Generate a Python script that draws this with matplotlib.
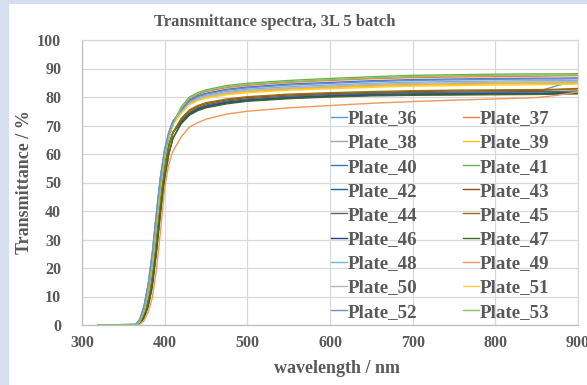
import matplotlib
matplotlib.use("Agg")
import matplotlib.pyplot as plt
from matplotlib.patches import Rectangle

# ---------------- data ----------------
wavelength = [320, 365, 370, 375, 380, 385, 390, 395, 400, 405, 410,
              420, 430, 440, 450, 475, 500, 550, 600, 650, 700, 750, 800, 850, 875, 900]

plate_names = ["Plate_36", "Plate_37", "Plate_38", "Plate_39", "Plate_40", "Plate_41",
               "Plate_42", "Plate_43", "Plate_44", "Plate_45", "Plate_46", "Plate_47",
               "Plate_48", "Plate_49", "Plate_50", "Plate_51", "Plate_52", "Plate_53"]

plate_colors = ["#5B9BD5", "#ED7D31", "#A5A5A5", "#FFC000", "#4472C4", "#70AD47",
                "#255E91", "#9E480E", "#636363", "#997300", "#264478", "#43682B",
                "#7CAFDD", "#F1975A", "#B7B7B7", "#FFCD33", "#698ED0", "#8CC168"]

plate_36 = [0, 0.0, 0.8, 3.5, 8.5, 17.0, 30.0, 44.0, 55.5, 63.0, 67.5,
            71.5, 74.5, 76.0, 77.0, 78.4, 79.2, 80.1, 80.7, 81.1, 81.3, 81.4, 81.5, 81.8, 84.0, 85.8]
plate_37 = [0, 0.1, 1.3, 5.0, 11.0, 21.0, 35.0, 48.5, 59.0, 66.0, 70.5,
            76.0, 79.4, 80.9, 81.9, 83.3, 84.1, 85.1, 85.8, 86.4, 86.8, 87.0, 87.2, 87.3, 87.4, 87.5]
plate_38 = [0, 0.1, 1.3, 5.0, 11.0, 21.0, 35.0, 48.5, 59.0, 66.0, 70.5,
            74.5, 77.6, 79.0, 79.9, 81.2, 82.0, 82.9, 83.5, 84.0, 84.4, 84.6, 84.8, 84.9, 84.9, 85.0]
plate_39 = [0, 0.1, 1.3, 5.0, 11.0, 21.0, 35.0, 48.5, 59.0, 66.0, 70.5,
            74.6, 77.6, 79.0, 79.9, 81.1, 81.9, 82.8, 83.3, 83.8, 84.2, 84.4, 84.6, 84.7, 84.8, 84.9]
plate_40 = [0, 0.2, 2.0, 6.5, 14.0, 25.0, 39.0, 52.0, 61.5, 67.5, 71.5,
            75.5, 78.9, 80.4, 81.3, 82.7, 83.5, 84.5, 85.1, 85.7, 86.1, 86.3, 86.5, 86.6, 86.6, 86.7]
plate_41 = [0, 0.1, 1.3, 5.0, 11.0, 21.0, 35.0, 48.5, 59.0, 66.0, 70.5,
            76.5, 80.0, 81.5, 82.5, 84.0, 84.8, 85.8, 86.5, 87.1, 87.6, 87.8, 88.0, 88.1, 88.1, 88.2]
plate_42 = [0, 0.0, 0.8, 3.5, 8.5, 17.0, 30.0, 44.0, 55.5, 63.0, 67.5,
            71.2, 74.2, 75.8, 76.8, 78.2, 79.0, 79.9, 80.5, 80.9, 81.1, 81.2, 81.3, 81.4, 81.5, 81.6]
plate_43 = [0, 0.0, 0.8, 3.5, 8.5, 17.0, 30.0, 44.0, 55.5, 63.0, 67.5,
            72.2, 75.2, 76.7, 77.7, 79.0, 79.8, 80.7, 81.2, 81.6, 81.9, 82.1, 82.2, 82.3, 82.6, 83.0]
plate_44 = [0, 0.0, 0.8, 3.5, 8.5, 17.0, 30.0, 44.0, 55.5, 63.0, 67.5,
            71.6, 74.6, 76.2, 77.2, 78.6, 79.4, 80.3, 80.9, 81.3, 81.6, 81.7, 81.8, 81.9, 82.0, 82.1]
plate_45 = [0, 0.0, 0.8, 3.5, 8.5, 17.0, 30.0, 44.0, 55.5, 63.0, 67.5,
            72.5, 75.5, 77.0, 78.0, 79.3, 80.1, 81.0, 81.5, 81.9, 82.2, 82.4, 82.5, 82.6, 82.7, 82.8]
plate_46 = [0, 0.0, 0.5, 2.5, 6.5, 13.5, 25.5, 39.5, 51.5, 60.0, 65.5,
            70.9, 73.9, 75.5, 76.5, 77.9, 78.7, 79.6, 80.2, 80.6, 80.8, 80.9, 81.0, 81.1, 81.2, 81.3]
plate_47 = [0, 0.0, 0.5, 2.5, 6.5, 13.5, 25.5, 39.5, 51.5, 60.0, 65.5,
            70.6, 73.6, 75.2, 76.2, 77.6, 78.5, 79.4, 80.0, 80.4, 80.6, 80.7, 80.8, 80.9, 81.0, 81.1]
plate_48 = [0, 0.2, 2.0, 6.5, 14.0, 25.0, 39.0, 52.0, 61.5, 67.5, 71.5,
            75.0, 78.2, 79.6, 80.5, 81.9, 82.7, 83.6, 84.2, 84.8, 85.2, 85.4, 85.6, 85.7, 85.7, 85.8]
plate_49 = [0, 0.0, 0.3, 1.5, 4.5, 9.5, 19.5, 33.0, 48.0, 56.5, 61.0,
            66.0, 69.5, 71.0, 72.2, 74.0, 75.0, 76.2, 77.0, 77.8, 78.4, 78.9, 79.3, 79.8, 80.6, 81.8]
plate_50 = [0, 0.1, 1.3, 5.0, 11.0, 21.0, 35.0, 48.5, 59.0, 66.0, 70.5,
            74.8, 77.9, 79.3, 80.2, 81.5, 82.3, 83.2, 83.8, 84.4, 84.8, 85.0, 85.2, 85.3, 85.3, 85.4]
plate_51 = [0, 0.1, 1.3, 5.0, 11.0, 21.0, 35.0, 48.5, 59.0, 66.0, 70.5,
            74.3, 77.3, 78.7, 79.6, 80.8, 81.5, 82.4, 82.9, 83.4, 83.8, 84.0, 84.2, 84.3, 84.4, 84.5]
plate_52 = [0, 0.2, 2.0, 6.5, 14.0, 25.0, 39.0, 52.0, 61.5, 67.5, 71.5,
            75.3, 78.6, 80.1, 81.0, 82.4, 83.2, 84.2, 84.8, 85.4, 85.8, 86.0, 86.2, 86.3, 86.3, 86.4]
plate_53 = [0, 0.1, 1.3, 5.0, 11.0, 21.0, 35.0, 48.5, 59.0, 66.0, 70.5,
            76.2, 79.7, 81.2, 82.2, 83.6, 84.4, 85.4, 86.1, 86.7, 87.2, 87.4, 87.6, 87.7, 87.7, 87.8]

plate_values = [plate_36, plate_37, plate_38, plate_39, plate_40, plate_41,
                plate_42, plate_43, plate_44, plate_45, plate_46, plate_47,
                plate_48, plate_49, plate_50, plate_51, plate_52, plate_53]

x_ticks = [300, 400, 500, 600, 700, 800, 900]
y_ticks = [0, 10, 20, 30, 40, 50, 60, 70, 80, 90, 100]

title_text = "Transmittance spectra, 3L 5 batch"
x_label = "wavelength / nm"
y_label = "Transmittance / %"

# ---------------- style ----------------
W, H = 587, 385
FONT = "Liberation Serif"
TXT = "#595959"

fig = plt.figure(figsize=(W / 100, H / 100), dpi=100, facecolor="#D6DFF0")
bg = Rectangle((9 / W, 0), 1 - 9 / W, 1 - 4 / H, transform=fig.transFigure,
               facecolor="white", edgecolor="none", zorder=-10)
fig.add_artist(bg)

ax = fig.add_axes([82 / W, 60 / H, 496 / W, 285 / H])
ax.set_facecolor("none")
ax.set_zorder(1)

lines = []
for name, col, vals in zip(plate_names, plate_colors, plate_values):
    ln, = ax.plot(wavelength, vals, color=col, lw=1.0, label=name, solid_joinstyle="round")
    lines.append(ln)

ax.set_xlim(300, 900)
ax.set_ylim(0, 100)
ax.set_xticks(x_ticks)
ax.set_yticks(y_ticks)
ax.grid(True, color="#D9D9D9", lw=0.9, zorder=0)
ax.set_axisbelow(True)
for s in ["top", "right"]:
    ax.spines[s].set_color("#D9D9D9")
    ax.spines[s].set_linewidth(0.9)
for s in ["left", "bottom"]:
    ax.spines[s].set_color("#BFBFBF")
    ax.spines[s].set_linewidth(0.9)
ax.tick_params(length=0, colors=TXT, labelsize=11.5)
ax.tick_params(axis="x", pad=7)
ax.tick_params(axis="y", pad=15)
for lab in ax.get_xticklabels() + ax.get_yticklabels():
    lab.set_fontfamily(FONT)
    lab.set_fontweight("bold")

ax.set_xlabel(x_label, fontfamily=FONT, fontweight="bold", fontsize=13, color=TXT)
ax.xaxis.set_label_coords((337.5 - 82) / 496, (325 - 360) / 285)
ax.set_ylabel(y_label, fontfamily=FONT, fontweight="bold", fontsize=13, color=TXT)
ax.yaxis.set_label_coords((33 - 82) / 496, 0.5)

fig.text(275 / W, 1 - 22 / H, title_text, ha="center", va="center",
         fontfamily=FONT, fontweight="bold", fontsize=12, color=TXT)

# legend: Excel row-major order -> column-major for matplotlib
order = list(range(0, 18, 2)) + list(range(1, 18, 2))
leg = ax.legend([lines[i] for i in order], [plate_names[i] for i in order],
                ncol=2, loc="upper left",
                bbox_to_anchor=((331 - 82) / 496, (325 - 110) / 285),
                frameon=False, handlelength=0.85, handletextpad=0.05,
                columnspacing=2.35, labelspacing=0.36, borderpad=0, borderaxespad=0,
                prop={"family": FONT, "weight": "bold", "size": 13.7})
for t in leg.get_texts():
    t.set_color(TXT)

fig.savefig("out.png", dpi=100, facecolor=fig.get_facecolor())
